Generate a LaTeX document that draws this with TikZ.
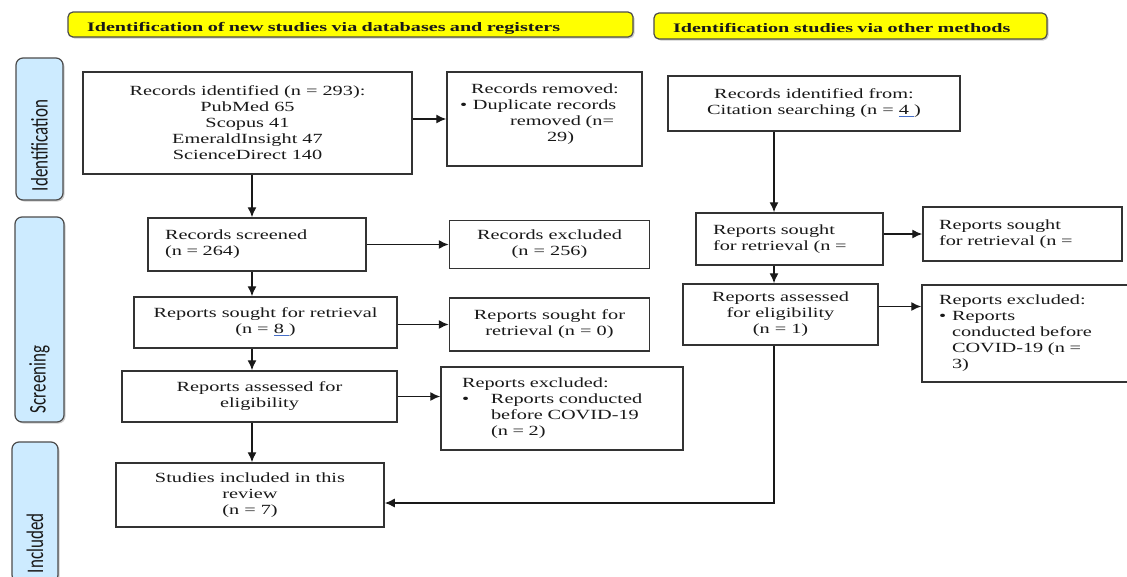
\documentclass[tikz,border=0pt]{standalone}
\usepackage{fontspec}
\setmainfont{Liberation Serif}[FakeStretch=1.45]
\newfontfamily\bannerfont{Liberation Serif}[FakeStretch=1.55]
\newfontfamily\phasefont{Carlito}[FakeStretch=0.714]
\usepackage{xcolor}
\usetikzlibrary{positioning,calc,arrows.meta,shadows}
\definecolor{bannerfill}{RGB}{255,255,0}
\definecolor{phasefill}{RGB}{205,235,255}
\definecolor{linkblue}{RGB}{70,110,200}
\newcommand{\lnk}[1]{{\color{linkblue}\underline{\color{black!90}#1}}}

\begin{document}
\begin{tikzpicture}[x=1pt,y=-1pt,line width=1.4pt,color=black!90,
	>={Latex[length=10pt,width=9pt]},
	box/.style={draw=black!80, line width=1.5pt, fill=white, align=center, inner sep=0pt, font=\fontsize{14}{16}\selectfont},
	dims/.style 2 args={minimum width=#1pt, minimum height=#2pt},
	banner/.style={draw=black!70, line width=1.2pt, fill=bannerfill, rounded corners=5pt, align=left, inner xsep=19pt, inner ysep=0pt, text height=13pt, text depth=0pt, font=\bannerfont\bfseries\fontsize{13}{14}\selectfont, drop shadow={shadow xshift=1.5pt, shadow yshift=-1.5pt, opacity=.4}},
	phase/.style={draw=black!70, line width=1.2pt, fill=phasefill, rounded corners=7pt, rotate=90, align=left, inner xsep=9pt, inner ysep=0pt, font=\phasefont\fontsize{23.8}{24}\selectfont, drop shadow={shadow xshift=1.5pt, shadow yshift=-1.5pt, opacity=.4}}]
	\useasboundingbox (0,0) rectangle (1127,576);

	\node[banner, minimum height=25pt, text width=527pt] (newhead) at (350.5,24.5) {Identification of new studies via databases and registers};
	\node[banner, minimum height=26pt, text width=355pt] (otherhead) at (850.5,26) {Identification studies via other methods};

	\node[phase, minimum height=47pt, text width=124pt] (idphase) at (39.5,129) {Identification};
	\node[phase, minimum height=49pt, text width=187pt] (scrphase) at (39.5,319.5) {Screening};
	\node[phase, minimum height=46pt, text width=122pt] (incphase) at (35,512) {Included};

	\coordinate (lspine) at (252,0);
	\coordinate (rspine) at (774,0);

	\node[box, dims={329}{102}] (ident) at (247.5,123) {Records identified (n = 293):\\PubMed 65\\Scopus 41\\EmeraldInsight 47\\ScienceDirect 140};
	\node[box, align=left, inner xsep=13pt, text width=169pt, minimum height=94pt] (removed) at (544.5,119) {\hspace*{11pt}Records removed:\\\makebox[13pt][l]{\textbullet}Duplicate records\\\hspace*{50pt}removed (n=\\\hspace*{87pt}29)\\[-4pt]\mbox{}};
	\node[box, align=left, inner xsep=17pt, text width=184pt, minimum height=53pt] (screened) at (257,244.5) {Records screened\\(n = 264)};
	\node[box, dims={200}{48}] (excluded) [right=82pt of screened] {Records excluded\\(n = 256)};
	\node[box, dims={263}{51}] (sought) at (265.5,322.5) {Reports sought for retrieval\\(n = \lnk{8 })};
	\node[box, dims={200}{53}] (soughtnone) [below=28pt of excluded] {Reports sought for\\retrieval (n = 0)};
	\node[box, dims={275}{51}] (assessed) at (259.5,396.5) {Reports assessed for\\eligibility};
	\node[box, align=left, inner xsep=21pt, text width=200pt, minimum height=83pt] (excl) at (562,408.5) {Reports excluded:\\\makebox[29pt][l]{\textbullet}Reports conducted\\\hspace*{29pt}before COVID-19\\\hspace*{29pt}(n = 2)};
	\node[box, dims={268}{64}] (included) at (250,495) {Studies included in this\\review\\(n = 7)};

	\node[box, dims={292}{55}] (citation) at (814,103.5) {Records identified from:\\Citation searching (n = \lnk{4 })};
	\node[box, align=left, inner xsep=17pt, text width=153pt, minimum height=52pt] (othersought) at (789.5,239) {Reports sought\\for retrieval (n =};
	\node[box, dims={195}{61}] (otherassessed) at (780.5,314.5) {Reports assessed\\for eligibility\\(n = 1)};
	\node[box, align=left, inner xsep=16pt, text width=167pt, minimum height=54pt] (othernot) at (1022.5,234) {Reports sought\\for retrieval (n =};
	\node[box, align=left, inner xsep=17pt, text width=184pt, minimum height=97pt] (otherexcl) at (1031,333.5) {Reports excluded:\\\makebox[13pt][l]{\textbullet}Reports\\\hspace*{13pt}conducted before\\\hspace*{13pt}COVID-19 (n =\\\hspace*{13pt}3)};

	\draw[->] (ident.east |- removed.west) -- (removed.west);
	\draw[->] (ident.south -| lspine) -- (screened.north -| lspine);
	\draw[->] (screened.east) -- (screened.east -| excluded.west);
	\draw[->] (screened.south -| lspine) -- (sought.north -| lspine);
	\draw[->] (sought.east |- soughtnone.west) -- (soughtnone.west);
	\draw[->] (sought.south -| lspine) -- (assessed.north -| lspine);
	\draw[->] (assessed.east) -- (assessed.east -| excl.west);
	\draw[->] (assessed.south -| lspine) -- (included.north -| lspine);

	\draw[->] (citation.south -| rspine) -- (othersought.north -| rspine);
	\draw[->] (othersought.south -| rspine) -- (otherassessed.north -| rspine);
	\draw[->] (othersought.east |- othernot.west) -- (othernot.west);
	\draw[->] ([yshift=8pt]otherassessed.east) -- ([yshift=8pt]otherassessed.east -| otherexcl.west);
	\draw[->] (otherassessed.south -| rspine) |- ([yshift=-8pt]included.east);
\end{tikzpicture}
\end{document}
